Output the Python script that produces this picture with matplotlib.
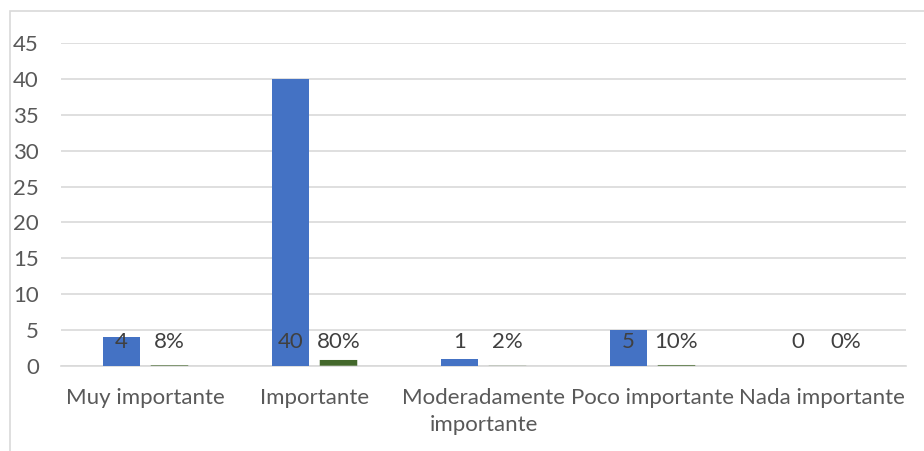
import numpy as np
import matplotlib
matplotlib.use("Agg")
import matplotlib.pyplot as plt
from matplotlib.patches import Rectangle

plt.rcParams['font.family'] = ['Lato', 'DejaVu Sans']

# --- Data ---
categories = ["Muy importante", "Importante", "Moderadamente\nimportante",
              "Poco importante", "Nada importante"]
counts = [4, 40, 1, 5, 0]
shares = [0.08, 0.80, 0.02, 0.10, 0.0]
y_ticks = [0, 5, 10, 15, 20, 25, 30, 35, 40, 45]

BLUE = "#4472C4"
GREEN = "#43682B"
TEXT = "#595959"
GRID = "#D9D9D9"
FS = 16

fig = plt.figure(figsize=(9.24, 4.51), dpi=100)
ax = fig.add_axes([61 / 924, 1 - 365.7 / 451, 845 / 924, (365.7 - 43.3) / 451])

# chart frame
fig.patches.append(Rectangle((10 / 924, -0.05), 1.2, 1 - 10.7 / 451 + 0.05,
                             transform=fig.transFigure, fill=False,
                             edgecolor=GRID, linewidth=1.2, zorder=0))

x = np.arange(len(categories))
w = 0.222
off = 0.142
ax.bar(x - off, counts, width=w, color=BLUE, zorder=3)
ax.bar(x + off, shares, width=w, color=GREEN, zorder=3, snap=False)

# data labels (all sit on one line, as in the source)
label_y = 3.3
for i in range(len(categories)):
    ax.text(x[i] - off, label_y, f"{counts[i]}", ha="center", va="center",
            fontsize=FS, color="#404040", zorder=4)
    ax.text(x[i] + off, label_y, f"{shares[i]:.0%}", ha="center", va="center",
            fontsize=FS, color="#404040", zorder=4)

ax.set_xlim(-0.5, len(categories) - 0.5)
ax.set_ylim(0, 45)
ax.set_yticks(y_ticks)
ax.set_xticks(x)
ax.set_xticklabels(categories, linespacing=1.45)
ax.tick_params(axis="y", length=0, pad=16, labelsize=FS, labelcolor=TEXT)
ax.tick_params(axis="x", length=0, pad=16, labelsize=FS, labelcolor=TEXT)
ax.grid(axis="y", color=GRID, linewidth=1.2, zorder=0)
for s in ["top", "right", "left"]:
    ax.spines[s].set_visible(False)
ax.spines["bottom"].set_color(GRID)
ax.spines["bottom"].set_linewidth(1.2)

plt.savefig("out.png", dpi=100)
